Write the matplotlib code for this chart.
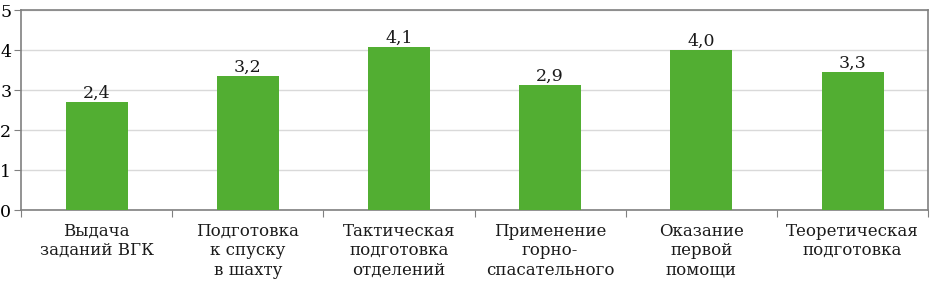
import numpy as np
import matplotlib.pyplot as plt

# bar heights as drawn, and the value labels printed above them
categories = [
    "Выдача\nзаданий ВГК",
    "Подготовка\nк спуску\nв шахту",
    "Тактическая\nподготовка\nотделений",
    "Применение\nгорно-\nспасательного",
    "Оказание\nпервой\nпомощи",
    "Теоретическая\nподготовка",
]
heights = [2.7, 3.35, 4.08, 3.12, 4.0, 3.45]
value_labels = ["2,4", "3,2", "4,1", "2,9", "4,0", "3,3"]
y_ticks = [0, 1, 2, 3, 4, 5]

plt.rcParams["font.family"] = ["DejaVu Serif"]

fig = plt.figure(figsize=(9.3, 2.82), dpi=100)
ax = fig.add_axes([0.0226, 0.2553, 0.9754, 0.7092])

x = np.arange(len(categories))
bars = ax.bar(x, heights, width=0.41, color="#52ae32", zorder=3)

for b, lab in zip(bars, value_labels):
    ax.annotate(lab, (b.get_x() + b.get_width() / 2, b.get_height()),
                xytext=(0, 0), textcoords="offset points",
                ha="center", va="bottom", fontsize=12.5, color="#1a1a1a")

ax.set_xlim(-0.5, len(categories) - 0.5)
ax.set_ylim(0, 5)
ax.set_yticks(y_ticks)
ax.set_yticklabels([str(t) for t in y_ticks], fontsize=12.5)
ax.yaxis.grid(True, color="#d9d9d9", linewidth=1, zorder=0)

# category boundary ticks, labels centred between them
ax.set_xticks(np.arange(len(categories) + 1) - 0.5)
ax.set_xticklabels([])
ax.set_xticks(x, minor=True)
ax.set_xticklabels(categories, minor=True, fontsize=12, linespacing=1.2,
                   va="top", color="#1a1a1a")
ax.tick_params(axis="x", which="minor", length=0, pad=9)
ax.tick_params(axis="x", which="major", length=5, color="#808080")
ax.tick_params(axis="y", length=5, color="#808080", pad=2)

for s in ax.spines.values():
    s.set_color("#808080")
    s.set_linewidth(1.2)

fig.savefig("out.png", dpi=100)
